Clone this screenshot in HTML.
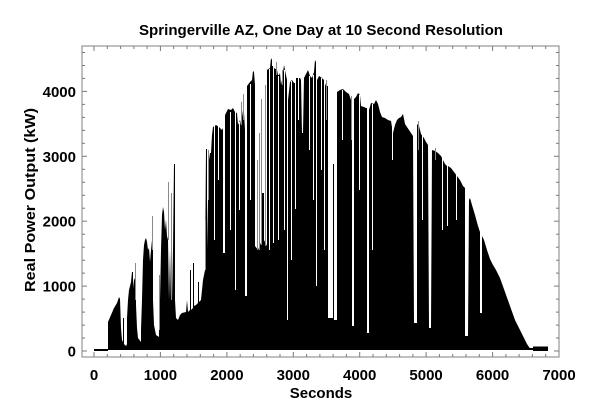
<!DOCTYPE html>
<html>
<head>
<meta charset="utf-8">
<style>
html,body{margin:0;padding:0;background:#fff;}
svg{display:block;}
text{font-family:"Liberation Sans",Arial,sans-serif;font-weight:bold;fill:#000;}
</style>
</head>
<body>
<svg width="604" height="419" viewBox="0 0 604 419" xmlns="http://www.w3.org/2000/svg">
<rect x="0" y="0" width="604" height="419" fill="#fff"/>
<text x="321" y="35" font-size="15" text-anchor="middle" textLength="364" lengthAdjust="spacingAndGlyphs">Springerville AZ, One Day at 10 Second Resolution</text>

<!-- data -->
<rect x="94" y="349" width="14" height="2" fill="#000"/>
<path fill="#000" d="M108,350 L108,322 L111,315 L114,308 L117,303 L119,297 L120,299 L121,328 L122,340 L123,342 L123,318 L124,318 L124,344 L126,346 L127,344
L127,318 L128,300 L129,290 L130,286 L131,282 L132,272 L133,272 L133,288 L134,280 L135,278 L136,280 L136,305 L137,328 L138,338 L141,342
L141,330 L142,300 L143,260 L144,245 L145,240 L146,238 L147,242 L148,250 L149,248 L150,262 L151,250 L152,240 L153,245 L153,300 L154,325 L156,335 L159,337
L159,320 L160,300 L161,250 L162,215 L163,207 L164,212 L165,230 L166,220 L167,236 L168,240 L169,300 L170,250 L171,300 L172,300 L173,250 L174,164 L175,164 L175,300 L176,318 L178,320 L180,315 L182,313
L186,312 L187,300 L188,312 L190,310 L190,270 L191,270 L191,310 L193,308 L193,263 L194,263 L194,306 L196,305 L198,303 L198,282 L199,282 L199,302 L201,300 L202,290 L203,280 L204,275 L205,270 L206,149 L207,149 L207,250 L208,200 L209,160 L210,153 L211,153 L212,135 L213,127 L216,125 L219,127 L222,130 L223,128 L223,253 L225,253 L225,115 L228,109 L231,110 L233,108 L235,112 L237,113 L238,125 L240,120 L241,125 L243,110 L244,112 L245,130 L245,296 L247,296 L247,86 L250,82 L252,80 L253,71 L254,72 L255,85 L255,246 L258,250 L260,245 L262,240 L262,193 L264,193 L264,240 L267,246 L267,70 L270,68 L271,58 L272,60 L272,66 L273,66 L273,243 L274,243 L274,68 L277,70 L278,75 L279,75 L280,73 L281,85 L282,80 L284,65 L286,75 L287,80 L287,320 L288,320 L288,100 L290,82 L292,80 L294,83 L295,83 L295,209 L296,209 L296,78 L300,78 L301,80 L302,133 L303,133 L304,78 L306,74 L308,70 L310,76 L312,78 L314,72 L315,60 L316,62 L316,286 L317,286 L317,80 L319,76 L322,78 L324,80 L326,86 L328,86 L328,318 L333,318 L333,164 L334,164 L334,320 L337,320 L337,92 L340,90 L343,89 L346,92 L349,94 L351,100 L352,100 L352,326 L354,326 L354,99 L356,97 L358,93 L360,95 L361,106 L364,107 L366,108 L367,108 L367,333 L369,333 L369,110 L371,103 L374,104 L376,100 L378,104 L380,112 L382,117 L385,118 L388,120 L391,121 L393,133 L395,125 L397,120 L399,118 L401,117 L403,114 L405,124 L407,127 L409,130 L411,133 L413,136 L414,323 L417,323 L417,124 L419,126 L421,134 L424,138 L426,142 L428,145 L429,328 L431,328 L432,150 L435,151 L438,153 L441,156 L443,160 L445,164 L447,166 L447,226 L448,226 L448,166 L451,168 L454,172 L457,176 L460,180 L463,186 L465,188 L465,336 L468,336 L469,200 L470,198 L472,205 L475,215 L478,226 L480,232 L480,313 L482,313 L482,236 L484,240 L487,250 L490,259 L493,265 L496,270 L500,278 L505,292 L510,306 L515,320 L520,330 L524,338 L527,344 L529,347 L531,350 Z"/>
<rect x="529" y="348" width="4" height="2" fill="#000"/>
<rect x="533" y="346.5" width="15" height="4.5" fill="#000"/>

<!-- gray spikes -->
<g stroke="#8a8a8a" stroke-width="1" fill="none">
<line x1="135.5" y1="300" x2="135.5" y2="263"/>
<line x1="152.5" y1="250" x2="152.5" y2="216"/>
<line x1="159.5" y1="330" x2="159.5" y2="275"/>
<line x1="168.5" y1="240" x2="168.5" y2="182"/>
<line x1="171.5" y1="300" x2="171.5" y2="193"/>
<line x1="205.5" y1="270" x2="205.5" y2="220"/>
<line x1="208.5" y1="200" x2="208.5" y2="150"/>
<line x1="243.5" y1="120" x2="243.5" y2="94"/>
<line x1="241.5" y1="125" x2="241.5" y2="102"/>
<line x1="257.5" y1="250" x2="257.5" y2="160"/>
<line x1="259.5" y1="250" x2="259.5" y2="133"/>
<line x1="261.5" y1="245" x2="261.5" y2="99"/>
<line x1="265.5" y1="246" x2="265.5" y2="85"/>
<line x1="276.5" y1="75" x2="276.5" y2="62"/>
<line x1="282.5" y1="85" x2="282.5" y2="70"/>
<line x1="326.5" y1="120" x2="326.5" y2="80"/>
<line x1="351.5" y1="140" x2="351.5" y2="96"/>
<line x1="418.5" y1="150" x2="418.5" y2="121"/>
<line x1="435.5" y1="160" x2="435.5" y2="148"/>
</g>
<!-- white partial streaks -->
<g stroke="#fff" stroke-width="1" fill="none">
<line x1="214.5" y1="126" x2="214.5" y2="240"/>
<line x1="218.5" y1="126" x2="218.5" y2="180"/>
<line x1="230.5" y1="112" x2="230.5" y2="230"/>
<line x1="235.5" y1="112" x2="235.5" y2="290"/>
<line x1="239.5" y1="122" x2="239.5" y2="210"/>
<line x1="250.5" y1="84" x2="250.5" y2="200"/>
<line x1="269.5" y1="69" x2="269.5" y2="250"/>
<line x1="278.5" y1="76" x2="278.5" y2="240"/>
<line x1="284.5" y1="70" x2="284.5" y2="230"/>
<line x1="291.5" y1="81" x2="291.5" y2="260"/>
<line x1="298.5" y1="78" x2="298.5" y2="120"/>
<line x1="309.5" y1="76" x2="309.5" y2="150"/>
<line x1="313.5" y1="75" x2="313.5" y2="200"/>
<line x1="321.5" y1="78" x2="321.5" y2="170"/>
<line x1="324.5" y1="80" x2="324.5" y2="250"/>
<line x1="342.5" y1="90" x2="342.5" y2="140"/>
<line x1="359.5" y1="95" x2="359.5" y2="190"/>
<line x1="372.5" y1="104" x2="372.5" y2="250"/>
<line x1="392.5" y1="121" x2="392.5" y2="160"/>
<line x1="422.5" y1="135" x2="422.5" y2="220"/>
<line x1="442.5" y1="157" x2="442.5" y2="230"/>
<line x1="456.5" y1="175" x2="456.5" y2="220"/>
</g>

<!-- frame -->
<rect x="82" y="46" width="477" height="311" fill="none" stroke="#808080" stroke-width="1"/>
<!-- ticks -->
<g stroke="#7a7a7a" stroke-width="1">
<line x1="94" y1="357" x2="94" y2="352"/><line x1="94" y1="46" x2="94" y2="51"/>
<line x1="160.4" y1="357" x2="160.4" y2="352"/><line x1="160.4" y1="46" x2="160.4" y2="51"/>
<line x1="226.9" y1="357" x2="226.9" y2="352"/><line x1="226.9" y1="46" x2="226.9" y2="51"/>
<line x1="293.3" y1="357" x2="293.3" y2="352"/><line x1="293.3" y1="46" x2="293.3" y2="51"/>
<line x1="359.7" y1="357" x2="359.7" y2="352"/><line x1="359.7" y1="46" x2="359.7" y2="51"/>
<line x1="426.1" y1="357" x2="426.1" y2="352"/><line x1="426.1" y1="46" x2="426.1" y2="51"/>
<line x1="492.6" y1="357" x2="492.6" y2="352"/><line x1="492.6" y1="46" x2="492.6" y2="51"/>
<line x1="107.3" y1="357" x2="107.3" y2="354"/><line x1="120.6" y1="357" x2="120.6" y2="354"/><line x1="133.9" y1="357" x2="133.9" y2="354"/><line x1="147.1" y1="357" x2="147.1" y2="354"/>
<line x1="173.7" y1="357" x2="173.7" y2="354"/><line x1="187" y1="357" x2="187" y2="354"/><line x1="200.3" y1="357" x2="200.3" y2="354"/><line x1="213.6" y1="357" x2="213.6" y2="354"/>
<line x1="240.2" y1="357" x2="240.2" y2="354"/><line x1="253.4" y1="357" x2="253.4" y2="354"/><line x1="266.7" y1="357" x2="266.7" y2="354"/><line x1="280" y1="357" x2="280" y2="354"/>
<line x1="306.6" y1="357" x2="306.6" y2="354"/><line x1="319.9" y1="357" x2="319.9" y2="354"/><line x1="333.1" y1="357" x2="333.1" y2="354"/><line x1="346.4" y1="357" x2="346.4" y2="354"/>
<line x1="373" y1="357" x2="373" y2="354"/><line x1="386.3" y1="357" x2="386.3" y2="354"/><line x1="399.6" y1="357" x2="399.6" y2="354"/><line x1="412.9" y1="357" x2="412.9" y2="354"/>
<line x1="439.4" y1="357" x2="439.4" y2="354"/><line x1="452.7" y1="357" x2="452.7" y2="354"/><line x1="466" y1="357" x2="466" y2="354"/><line x1="479.3" y1="357" x2="479.3" y2="354"/>
<line x1="505.9" y1="357" x2="505.9" y2="354"/><line x1="519.1" y1="357" x2="519.1" y2="354"/><line x1="532.4" y1="357" x2="532.4" y2="354"/><line x1="545.7" y1="357" x2="545.7" y2="354"/>
<line x1="107.3" y1="46" x2="107.3" y2="49"/><line x1="120.6" y1="46" x2="120.6" y2="49"/><line x1="133.9" y1="46" x2="133.9" y2="49"/><line x1="147.1" y1="46" x2="147.1" y2="49"/>
<line x1="173.7" y1="46" x2="173.7" y2="49"/><line x1="187" y1="46" x2="187" y2="49"/><line x1="200.3" y1="46" x2="200.3" y2="49"/><line x1="213.6" y1="46" x2="213.6" y2="49"/>
<line x1="240.2" y1="46" x2="240.2" y2="49"/><line x1="253.4" y1="46" x2="253.4" y2="49"/><line x1="266.7" y1="46" x2="266.7" y2="49"/><line x1="280" y1="46" x2="280" y2="49"/>
<line x1="306.6" y1="46" x2="306.6" y2="49"/><line x1="319.9" y1="46" x2="319.9" y2="49"/><line x1="333.1" y1="46" x2="333.1" y2="49"/><line x1="346.4" y1="46" x2="346.4" y2="49"/>
<line x1="373" y1="46" x2="373" y2="49"/><line x1="386.3" y1="46" x2="386.3" y2="49"/><line x1="399.6" y1="46" x2="399.6" y2="49"/><line x1="412.9" y1="46" x2="412.9" y2="49"/>
<line x1="439.4" y1="46" x2="439.4" y2="49"/><line x1="452.7" y1="46" x2="452.7" y2="49"/><line x1="466" y1="46" x2="466" y2="49"/><line x1="479.3" y1="46" x2="479.3" y2="49"/>
<line x1="505.9" y1="46" x2="505.9" y2="49"/><line x1="519.1" y1="46" x2="519.1" y2="49"/><line x1="532.4" y1="46" x2="532.4" y2="49"/><line x1="545.7" y1="46" x2="545.7" y2="49"/>
<line x1="82" y1="351" x2="87" y2="351"/><line x1="559" y1="351" x2="554" y2="351"/>
<line x1="82" y1="286.1" x2="87" y2="286.1"/><line x1="559" y1="286.1" x2="554" y2="286.1"/>
<line x1="82" y1="221.2" x2="87" y2="221.2"/><line x1="559" y1="221.2" x2="554" y2="221.2"/>
<line x1="82" y1="156.3" x2="87" y2="156.3"/><line x1="559" y1="156.3" x2="554" y2="156.3"/>
<line x1="82" y1="91.4" x2="87" y2="91.4"/><line x1="559" y1="91.4" x2="554" y2="91.4"/>
<line x1="82" y1="338" x2="85" y2="338"/><line x1="82" y1="325.1" x2="85" y2="325.1"/><line x1="82" y1="312.1" x2="85" y2="312.1"/><line x1="82" y1="299.1" x2="85" y2="299.1"/>
<line x1="82" y1="273.1" x2="85" y2="273.1"/><line x1="82" y1="260.2" x2="85" y2="260.2"/><line x1="82" y1="247.2" x2="85" y2="247.2"/><line x1="82" y1="234.2" x2="85" y2="234.2"/>
<line x1="82" y1="208.2" x2="85" y2="208.2"/><line x1="82" y1="195.3" x2="85" y2="195.3"/><line x1="82" y1="182.3" x2="85" y2="182.3"/><line x1="82" y1="169.3" x2="85" y2="169.3"/>
<line x1="82" y1="143.3" x2="85" y2="143.3"/><line x1="82" y1="130.4" x2="85" y2="130.4"/><line x1="82" y1="117.4" x2="85" y2="117.4"/><line x1="82" y1="104.4" x2="85" y2="104.4"/>
<line x1="82" y1="78.4" x2="85" y2="78.4"/><line x1="82" y1="65.5" x2="85" y2="65.5"/><line x1="82" y1="52.5" x2="85" y2="52.5"/>
<line x1="559" y1="338" x2="556" y2="338"/><line x1="559" y1="325.1" x2="556" y2="325.1"/><line x1="559" y1="312.1" x2="556" y2="312.1"/><line x1="559" y1="299.1" x2="556" y2="299.1"/>
<line x1="559" y1="273.1" x2="556" y2="273.1"/><line x1="559" y1="260.2" x2="556" y2="260.2"/><line x1="559" y1="247.2" x2="556" y2="247.2"/><line x1="559" y1="234.2" x2="556" y2="234.2"/>
<line x1="559" y1="208.2" x2="556" y2="208.2"/><line x1="559" y1="195.3" x2="556" y2="195.3"/><line x1="559" y1="182.3" x2="556" y2="182.3"/><line x1="559" y1="169.3" x2="556" y2="169.3"/>
<line x1="559" y1="143.3" x2="556" y2="143.3"/><line x1="559" y1="130.4" x2="556" y2="130.4"/><line x1="559" y1="117.4" x2="556" y2="117.4"/><line x1="559" y1="104.4" x2="556" y2="104.4"/>
<line x1="559" y1="78.4" x2="556" y2="78.4"/><line x1="559" y1="65.5" x2="556" y2="65.5"/><line x1="559" y1="52.5" x2="556" y2="52.5"/>
</g>

<!-- y tick labels -->
<g font-size="15" text-anchor="end">
<text x="76" y="356.5">0</text>
<text x="76" y="291.6">1000</text>
<text x="76" y="226.7">2000</text>
<text x="76" y="161.8">3000</text>
<text x="76" y="96.9">4000</text>
</g>
<!-- x tick labels -->
<g font-size="15" text-anchor="middle">
<text x="94" y="380">0</text>
<text x="160.4" y="380">1000</text>
<text x="226.9" y="380">2000</text>
<text x="293.3" y="380">3000</text>
<text x="359.7" y="380">4000</text>
<text x="426.1" y="380">5000</text>
<text x="492.6" y="380">6000</text>
<text x="559" y="380">7000</text>
</g>
<text x="321" y="398" font-size="15" text-anchor="middle">Seconds</text>
<text transform="translate(35,200) rotate(-90)" x="0" y="0" font-size="15" text-anchor="middle" textLength="184" lengthAdjust="spacingAndGlyphs">Real Power Output (kW)</text>
</svg>
</body>
</html>
